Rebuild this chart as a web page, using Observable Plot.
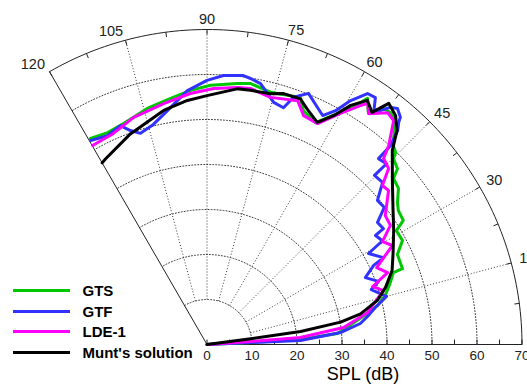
<!DOCTYPE html>
<html><head><meta charset="utf-8">
<script src="https://cdn.jsdelivr.net/npm/d3@7"></script>
<script src="https://cdn.jsdelivr.net/npm/@observablehq/plot@0.6"></script>
<style>
body{margin:0;background:#fff;font-family:"Liberation Sans",Arial,sans-serif;}
#wrap{position:relative;width:527px;height:385px;overflow:hidden;}
#wrap svg{position:absolute;left:0;top:0;}
#legend{position:absolute;left:13px;top:280.5px;}
.row{display:flex;align-items:center;height:20.5px;}
.sw{width:57px;height:3px;margin-right:12.5px;}
.lb{font-weight:bold;font-size:15px;color:#000;line-height:1;}
#xlabel{position:absolute;left:363px;top:374px;transform:translate(-50%,-50%);font-size:18px;color:#000;white-space:nowrap;}
</style></head><body><div id="wrap"></div>
<script>
// ---- data (angle in degrees, SPL in dB) ----
const seriesNames = ["GTS", "GTF", "LDE-1", "Munt's solution"];
const seriesColors = ["#00c800", "#3232ff", "#ff00ff", "#000000"];

const gtsAngle = [0, 2.6, 3.1, 4.8, 10.9, 12.9, 15.4, 18.7, 21.1, 21.2, 25.3, 28.0, 31.0, 32.3, 35.0, 36.7, 39.2, 41.7, 42.7, 44.9, 45.5, 46.9, 50.1, 51.7, 53.2, 55.2, 56.9, 57.6, 60.5, 63.9, 67.6, 69.3, 75.9, 80.5, 83.3, 89.2, 93.7, 98.4, 104.2, 110.7, 115.1, 119.5];
const gtsSPL   = [0, 9.7, 20.8, 29.1, 36.3, 38.9, 41.1, 43.0, 44.4, 46.6, 46.8, 49.2, 49.1, 51.6, 51.9, 52.8, 54.9, 55.5, 57.6, 58.5, 59.8, 60.6, 65.1, 65.7, 65.5, 62.8, 65.3, 63.7, 59.0, 54.9, 56.2, 58.7, 57.8, 58.8, 58.4, 57.6, 56.6, 55.3, 54.1, 52.5, 52.0, 52.6];

const gtfAngle = [0, 2.6, 2.4, 5.1, 7.8, 9.9, 12.4, 15.0, 18.5, 20.2, 22.9, 25.4, 26.2, 29.4, 30.6, 32.9, 33.3, 35.6, 37.7, 40.2, 42.7, 45.3, 45.2, 47.3, 47.3, 48.3, 49.2, 49.6, 51.1, 52.3, 54.3, 55.7, 57.4, 59.5, 61.2, 63.2, 65.0, 68.0, 70.7, 72.1, 74.6, 78.4, 80.7, 82.3, 86.5, 90, 94.4, 99.6, 104.0, 107.5, 109.7, 111.6, 115.5, 119.7];
const gtfSPL   = [0, 9.7, 20.8, 29.8, 34.4, 36.2, 38.3, 41.3, 38.5, 40.6, 38.2, 41.0, 43.7, 41.2, 45.3, 44.6, 46.9, 46.6, 49.8, 49.6, 53.1, 52.9, 56.6, 56.2, 60.1, 63.7, 65.2, 66.3, 67.4, 66.6, 63.5, 66.4, 66.2, 62.9, 59.3, 57.0, 58.1, 60.2, 58.2, 55.3, 55.8, 59.2, 59.9, 60.3, 59.9, 58.7, 56.6, 52.7, 50.2, 49.2, 50.5, 52.3, 51.4, 52.2];

const ldeAngle = [0, 3.9, 4.3, 7.1, 11.3, 13.3, 17.0, 19.3, 21.7, 24.4, 28.1, 30.4, 33.0, 35.9, 40.3, 42.2, 44.1, 46.5, 47.6, 50.2, 52.1, 55.0, 56.3, 57.3, 60.0, 63.4, 67.1, 69.6, 75.6, 80.4, 83.2, 88.5, 93.8, 100.2, 108.0, 113.9, 119.9];
const ldeSPL   = [0, 9.7, 20.8, 30.6, 36.4, 37.8, 41.0, 39.0, 43.2, 41.4, 46.7, 45.2, 48.6, 48.9, 52.9, 52.6, 56.2, 57.0, 59.9, 64.8, 65.3, 62.6, 64.4, 63.1, 59.3, 54.9, 55.2, 57.8, 56.7, 57.7, 57.5, 56.9, 55.9, 54.4, 53.0, 51.3, 51.0];

const muntAngle = [0, 7.5, 7.9, 9.5, 11.3, 14.5, 17.8, 21.8, 26, 31.4, 36, 41.5, 46.3, 48.4, 50.5, 53.0, 54.6, 56.7, 59.0, 61.0, 63.6, 67.0, 69.2, 73.0, 75.8, 80.3, 83.3, 90, 94.6, 100.5, 110.0, 118.7, 120];
const muntSPL   = [0, 9.8, 21.0, 30.1, 34.8, 39.1, 41.7, 44.3, 46.0, 48.6, 51.1, 55.0, 59.6, 63.6, 65.9, 67.1, 63.3, 64.9, 62.0, 58.2, 55.1, 56.9, 58.4, 58.3, 57.5, 57.3, 57.2, 55.3, 54.4, 52.9, 49.8, 47.0, 46.6];

const angleTicks = [15, 30, 45, 60, 75, 90, 105, 120];
const splTicks = [0, 10, 20, 30, 40, 50, 60, 70];
const rMax = 70;

// ---- build table ----
const rad = d => d * Math.PI / 180;
const series = [
  [gtsAngle, gtsSPL], [gtfAngle, gtfSPL], [ldeAngle, ldeSPL], [muntAngle, muntSPL]
];
const curves = [];
series.forEach(([a, s], i) => a.forEach((ang, j) => curves.push({name: seriesNames[i], angle: ang, spl: s[j]})));
const px = d => d.spl * Math.cos(rad(d.angle));
const py = d => d.spl * Math.sin(rad(d.angle));

// grid helpers
const arcPts = [];
for (const r of [10, 20, 30, 40, 50, 60]) for (let a = 0; a <= 120; a += 1) arcPts.push({spl: r, angle: a});
const outerArc = d3.range(0, 121, 1).map(a => ({spl: rMax, angle: a}));
const spokes = [15, 30, 45, 60, 75, 90, 105];
const edgeTicks = d3.range(0, 121, 7.5);
const splMinor = d3.range(0, 71, 5);

// frame geometry: origin pixel & scale
const W = 527, H = 385, OX = 206.5, OY = 344, K = 4.5;

const gridStroke = "#3a3a3a";
const chart = Plot.plot({
  width: W, height: H, margin: 0,
  x: {domain: [-OX / K, (W - OX) / K], range: [0, W], axis: null},
  y: {domain: [(OY - H) / K, OY / K], range: [H, 0], axis: null},
  style: {background: "transparent", fontFamily: "'Liberation Sans', Arial, sans-serif"},
  marks: [
    Plot.line(arcPts, {x: px, y: py, z: "spl", stroke: gridStroke, strokeWidth: 1, strokeDasharray: "1,2"}),
    Plot.link(spokes, {x1: a => 10 * Math.cos(rad(a)), y1: a => 10 * Math.sin(rad(a)),
                       x2: a => rMax * Math.cos(rad(a)), y2: a => rMax * Math.sin(rad(a)),
                       stroke: gridStroke, strokeWidth: 1, strokeDasharray: "1,2"}),
    Plot.line(outerArc, {x: px, y: py, stroke: "#222", strokeWidth: 1}),
    Plot.link([0, 120], {x1: 0, y1: 0, x2: a => rMax * Math.cos(rad(a)), y2: a => rMax * Math.sin(rad(a)), stroke: "#222", strokeWidth: 1}),
    Plot.link(splMinor, {x1: v => v, x2: v => v, y1: 0, y2: 1.1, stroke: "#222", strokeWidth: 1}),
    Plot.link(edgeTicks, {x1: a => rMax * Math.cos(rad(a)), y1: a => rMax * Math.sin(rad(a)),
                          x2: a => (rMax - 1.1) * Math.cos(rad(a)), y2: a => (rMax - 1.1) * Math.sin(rad(a)),
                          stroke: "#222", strokeWidth: 1}),
    Plot.line(curves, {x: px, y: py, z: "name",
      stroke: d => seriesColors[seriesNames.indexOf(d.name)], strokeWidth: 3, curve: "linear",
      strokeLinejoin: "round"}),
    Plot.text(angleTicks.filter(a => a < 90), {x: a => 72 * Math.cos(rad(a + 0.5)), y: a => 72 * Math.sin(rad(a + 0.5)),
      text: a => String(a), textAnchor: "start", fontSize: 14.5, fill: "#222"}),
    Plot.text(angleTicks.filter(a => a === 90), {x: a => 72.3 * Math.cos(rad(a)), y: a => 72.3 * Math.sin(rad(a)),
      text: a => String(a), textAnchor: "middle", fontSize: 14.5, fill: "#222"}),
    Plot.text(angleTicks.filter(a => a > 90), {x: a => 72 * Math.cos(rad(a)), y: a => 72 * Math.sin(rad(a)),
      text: a => String(a), textAnchor: "end", fontSize: 14.5, fill: "#222"}),
    Plot.text(splTicks, {x: v => v, y: 0, dy: 11, text: v => String(v), textAnchor: "middle", fontSize: 13.5, fill: "#222"})
  ]
});

const wrap = document.getElementById("wrap");
wrap.appendChild(chart);

const legend = document.createElement("div");
legend.id = "legend";
seriesNames.forEach((n, i) => {
  const row = document.createElement("div"); row.className = "row";
  const sw = document.createElement("div"); sw.className = "sw"; sw.style.background = seriesColors[i];
  const lb = document.createElement("div"); lb.className = "lb"; lb.textContent = n;
  row.appendChild(sw); row.appendChild(lb); legend.appendChild(row);
});
wrap.appendChild(legend);

const xl = document.createElement("div");
xl.id = "xlabel"; xl.textContent = "SPL (dB)";
wrap.appendChild(xl);
</script>
</body></html>
